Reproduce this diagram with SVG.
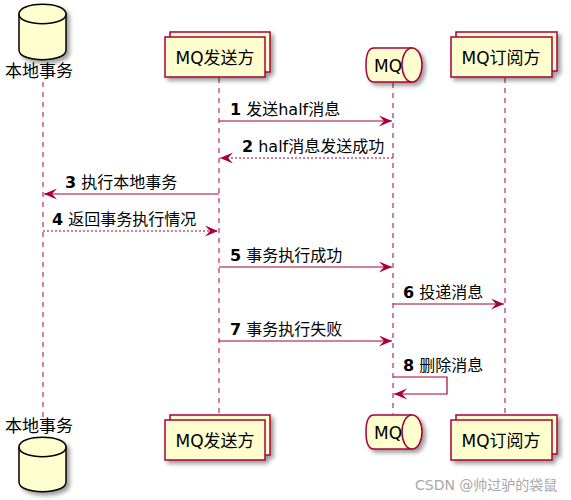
<svg xmlns="http://www.w3.org/2000/svg" width="571" height="500" viewBox="0 0 571 500">
<defs>
<filter id="sh" x="-20%" y="-20%" width="150%" height="150%">
<feGaussianBlur in="SourceAlpha" stdDeviation="2"/>
<feOffset dx="3" dy="3" result="b"/>
<feComponentTransfer><feFuncA type="linear" slope="0.4"/></feComponentTransfer>
<feMerge><feMergeNode/><feMergeNode in="SourceGraphic"/></feMerge>
</filter>
<marker id="ah" markerUnits="userSpaceOnUse" markerWidth="14" markerHeight="12" refX="13" refY="5.5" orient="auto">
<path d="M0,0 L13,5.5 L0,11 L5,5.5 Z" fill="#A80036"/>
</marker>
</defs>
<style>
.box{fill:#FEFECE;stroke:#A80036;stroke-width:1.5}
.db{fill:#FEFECE;stroke:#000;stroke-width:1.5}
.life{stroke:#A80036;stroke-width:1;stroke-dasharray:5,5;fill:none}
.msg{stroke:#A80036;stroke-width:1.2;fill:none;marker-end:url(#ah)}
.dash{stroke-dasharray:2,2}
.pt{font-family:"DejaVu Sans","Noto Sans CJK SC",sans-serif;font-size:17px;fill:#000}
.lt{font-family:"DejaVu Sans","Noto Sans CJK SC",sans-serif;font-size:16px;fill:#000}
.wm{font-family:"DejaVu Sans","Noto Sans CJK SC",sans-serif;font-size:14px;fill:#a8a8a8}
</style>
<rect width="571" height="500" fill="#fff"/>
<g id="lifelines">
<line class="life" x1="43" y1="82" x2="43" y2="418"/>
<line class="life" x1="219" y1="78" x2="219" y2="416"/>
<line class="life" x1="393" y1="83" x2="393" y2="414"/>
<line class="life" x1="505" y1="78" x2="505" y2="416"/>
</g>
<g id="db-top">
<g filter="url(#sh)">
<path class="db" d="M19,14 C19,1 66,1 66,14 L66,50 C66,63 19,63 19,50 Z"/>
<path class="db" d="M19,14 C19,27 66,27 66,14" fill="none"/>
</g>
<text class="pt" x="5" y="77">本地事务</text>
</g>
<g id="sender-top">
<g filter="url(#sh)">
<rect class="box" x="170" y="32" width="100" height="40"/>
<rect class="box" x="165" y="37" width="100" height="40"/>
</g>
<text class="pt" x="215" y="64" text-anchor="middle">MQ发送方</text>
</g>
<g id="mq-top">
<g filter="url(#sh)">
<path class="box" d="M374,48 L412,48 C418,48 422,56 422,65 C422,74 418,82 412,82 L374,82 C368,82 366,74 366,65 C366,56 368,48 374,48 Z"/>
<path class="box" d="M412,48 C406,48 402,56 402,65 C402,74 406,82 412,82" fill="none"/>
</g>
<text class="pt" x="374" y="72">MQ</text>
</g>
<g id="sub-top">
<g filter="url(#sh)">
<rect class="box" x="456" y="32" width="101" height="39"/>
<rect class="box" x="451" y="37" width="101" height="40"/>
</g>
<text class="pt" x="501" y="64" text-anchor="middle">MQ订阅方</text>
</g>
<g id="connectors">
<line class="msg" x1="219" y1="121" x2="392" y2="121"/>
<text class="lt" x="230" y="115"><tspan font-weight="bold">1</tspan> 发送half消息</text>
<line class="msg dash" x1="393" y1="158" x2="220" y2="158"/>
<text class="lt" x="242" y="152"><tspan font-weight="bold">2</tspan> half消息发送成功</text>
<line class="msg" x1="219" y1="194" x2="44" y2="194"/>
<text class="lt" x="65" y="188"><tspan font-weight="bold">3</tspan> 执行本地事务</text>
<line class="msg dash" x1="43" y1="231" x2="218" y2="231"/>
<text class="lt" x="52" y="225"><tspan font-weight="bold">4</tspan> 返回事务执行情况</text>
<line class="msg" x1="219" y1="267" x2="392" y2="267"/>
<text class="lt" x="230" y="261"><tspan font-weight="bold">5</tspan> 事务执行成功</text>
<line class="msg" x1="393" y1="304" x2="504" y2="304"/>
<text class="lt" x="403" y="298"><tspan font-weight="bold">6</tspan> 投递消息</text>
<line class="msg" x1="219" y1="341" x2="392" y2="341"/>
<text class="lt" x="230" y="335"><tspan font-weight="bold">7</tspan> 事务执行失败</text>
<polyline class="msg" points="393,377 447,377 447,394 394,394"/>
<text class="lt" x="403" y="371"><tspan font-weight="bold">8</tspan> 删除消息</text>
</g>
<g id="db-bottom">
<text class="pt" x="5" y="432">本地事务</text>
<g filter="url(#sh)">
<path class="db" d="M19,447 C19,434 66,434 66,447 L66,482 C66,495 19,495 19,482 Z"/>
<path class="db" d="M19,447 C19,460 66,460 66,447" fill="none"/>
</g>
</g>
<g id="sender-bottom">
<g filter="url(#sh)">
<rect class="box" x="170" y="415" width="100" height="40"/>
<rect class="box" x="165" y="420" width="100" height="40"/>
</g>
<text class="pt" x="215" y="447" text-anchor="middle">MQ发送方</text>
</g>
<g id="mq-bottom">
<g filter="url(#sh)">
<path class="box" d="M374,415 L412,415 C418,415 422,423 422,432 C422,441 418,449 412,449 L374,449 C368,449 366,441 366,432 C366,423 368,415 374,415 Z"/>
<path class="box" d="M412,415 C406,415 402,423 402,432 C402,441 406,449 412,449" fill="none"/>
</g>
<text class="pt" x="374" y="439">MQ</text>
</g>
<g id="sub-bottom">
<g filter="url(#sh)">
<rect class="box" x="456" y="415" width="101" height="39"/>
<rect class="box" x="451" y="420" width="101" height="40"/>
</g>
<text class="pt" x="501" y="447" text-anchor="middle">MQ订阅方</text>
</g>
<text class="wm" x="415" y="490">CSDN @帅过驴的袋鼠</text>
</svg>
